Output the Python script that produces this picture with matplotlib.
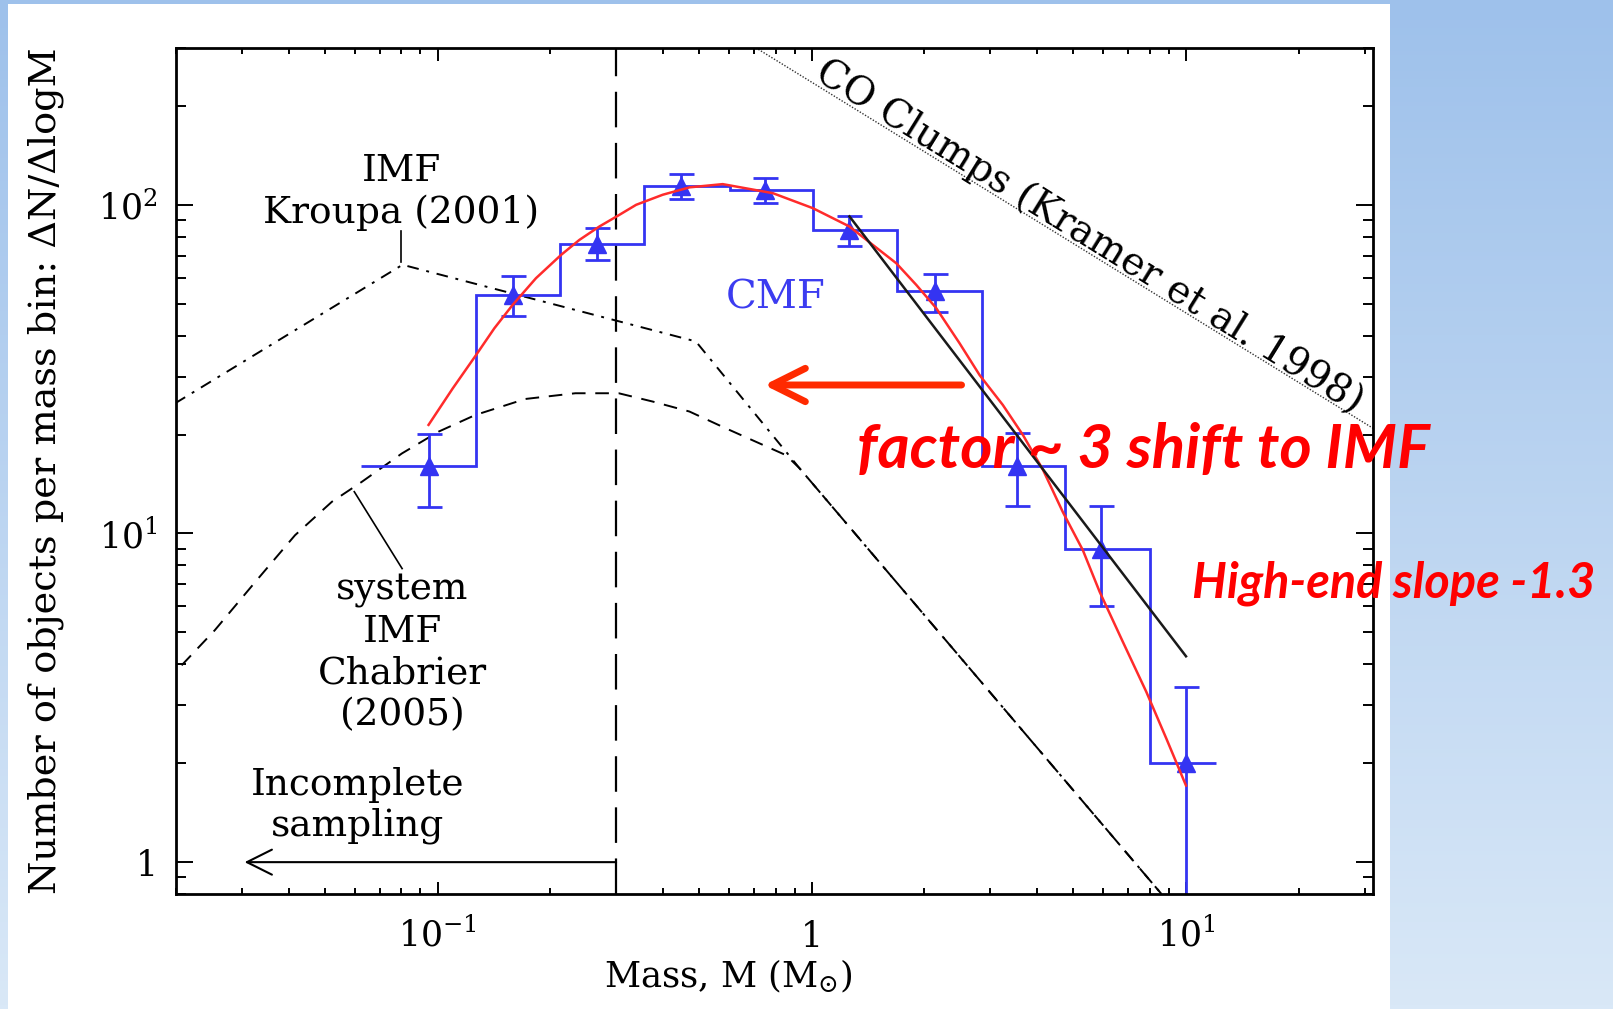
import numpy as np
import matplotlib.pyplot as plt
from matplotlib.patches import Rectangle
from matplotlib.ticker import FixedLocator, FixedFormatter, LogLocator, NullFormatter

plt.rcParams['font.family'] = 'DejaVu Serif'
plt.rcParams['mathtext.fontset'] = 'dejavuserif'

# core mass function: histogram (edges in Msun, counts per dlogM) + points with errors
bin_edges = [0.0624, 0.127, 0.212, 0.357, 0.603, 1.006, 1.687, 2.85, 4.74, 8.0, 12.0]
bin_counts = [16.0, 53.0, 76.0, 114.0, 111.0, 84.0, 54.5, 16.0, 9.0, 2.0]
pt_mass = [0.0946, 0.1586, 0.267, 0.448, 0.751, 1.261, 2.13, 3.53, 5.94, 10.0]
err_hi = [20.1, 60.7, 85.0, 124.0, 121.0, 92.2, 61.5, 20.2, 12.1, 3.4]
err_lo = [12.0, 46.0, 67.7, 104.0, 101.0, 74.7, 47.1, 12.1, 6.0, 0.3]

# lognormal fit to the CMF
fit_mass = [0.0946, 0.1097, 0.1267, 0.1418, 0.1587, 0.1832, 0.2138, 0.2393, 0.2706,
            0.306, 0.3393, 0.3996, 0.471, 0.578, 0.787, 1.006, 1.261, 1.456, 1.682,
            1.901, 2.15, 2.483, 2.81, 3.24, 3.67, 4.15, 4.69, 5.30, 5.88, 6.78,
            7.83, 8.87, 10.0]
fit_n = [21.4, 27.6, 34.9, 42.1, 49.6, 59.8, 70.4, 78.2, 85.9,
         93.2, 100.0, 107.3, 113.0, 115.6, 108.5, 97.7, 85.9, 75.5, 66.4,
         57.1, 48.5, 37.9, 30.3, 24.6, 19.9, 15.6, 11.6, 8.9, 6.64, 4.68,
         3.30, 2.37, 1.71]

# power-law fit to the high-mass end
slope_mass = [1.261, 10.0]
slope_n = [92.2, 4.23]

# Kroupa (2001) IMF
kroupa_mass = [0.0199, 0.0806, 0.49, 0.927, 8.6]
kroupa_n = [24.9, 65.7, 38.4, 15.8, 0.80]

# Chabrier (2005) system IMF
chab_mass = [0.0207, 0.0254, 0.0326, 0.0416, 0.0522, 0.0628, 0.0803, 0.1006, 0.1261,
             0.1716, 0.2335, 0.3048, 0.3757, 0.471, 0.578, 0.710, 0.854, 0.927, 8.6]
chab_n = [3.97, 5.08, 7.13, 9.88, 12.49, 14.37, 17.52, 20.41, 22.93,
          25.66, 26.71, 26.71, 25.2, 23.5, 21.1, 19.0, 17.3, 15.8, 0.80]

# CO clumps (Kramer et al. 1998)
co_mass = [0.697, 31.6]
co_n = [304.0, 20.9]

m_complete = 0.3
incomplete_to = 0.0305

blue = '#3434f2'

fig = plt.figure(figsize=(16.13, 10.09), dpi=100)

# slide background: blue gradient with a white panel
bg = fig.add_axes([0, 0, 1, 1], zorder=-10)
top_c = np.array([158, 193, 235]) / 255.0
bot_c = np.array([217, 232, 247]) / 255.0
t = np.linspace(0, 1, 256)[:, None]
grad = (top_c[None, :] * (1 - t) + bot_c[None, :] * t)[:, None, :]
bg.imshow(grad, extent=[0, 1, 0, 1], aspect='auto', origin='upper')
bg.add_patch(Rectangle((8 / 1613, 0), (1390 - 8) / 1613, (1009 - 4) / 1009,
                       facecolor='white', edgecolor='none'))
bg.set_xlim(0, 1)
bg.set_ylim(0, 1)
bg.axis('off')

ax = fig.add_axes([176 / 1613, 115 / 1009, 1197 / 1613, 846 / 1009])
ax.set_facecolor('white')
ax.set_xscale('log')
ax.set_yscale('log')

# model IMFs
ax.plot(kroupa_mass, kroupa_n, color='black', lw=1.4, ls=(0, (6, 4, 1.5, 4)), zorder=1)
ax.plot(chab_mass, chab_n, color='black', lw=1.4, ls=(0, (7, 5)), zorder=1)
ax.plot(co_mass, co_n, color='#333333', lw=1.0, ls=(0, (1, 1.2)), zorder=1)
ax.axvline(m_complete, color='black', lw=1.6, ls=(0, (16, 7)), zorder=1)

# CMF
ax.stairs(bin_counts, bin_edges, baseline=None, color=blue, lw=2, zorder=2)
vals = np.array(bin_counts)
yerr = [vals - np.array(err_lo), np.array(err_hi) - vals]
ax.errorbar(pt_mass, bin_counts, yerr=yerr, fmt='^', color=blue, ms=13,
            elinewidth=2, capsize=9, capthick=2, zorder=2)
ax.plot(fit_mass, fit_n, color='#ff2b2b', lw=1.8, zorder=3)
ax.plot(slope_mass, slope_n, color='#1a1a1a', lw=1.8, zorder=4)

# incompleteness arrow
ax.annotate('', xy=(incomplete_to, 1.0), xytext=(m_complete, 1.0),
            arrowprops=dict(arrowstyle='->,head_length=0.9,head_width=0.45',
                            color='black', lw=1.5, mutation_scale=20,
                            shrinkA=0, shrinkB=0))

# labels inside the plot (y gives the baseline of the last line)
ax.text(0.080, 88.0, 'IMF\nKroupa (2001)', ha='center', va='baseline',
        multialignment='center', fontsize=27, linespacing=1.2)
ax.plot([0.0798, 0.0798], [83.0, 67.2], color='black', lw=1.2)
ax.text(0.0806, 2.61, 'system\nIMF\nChabrier\n(2005)', ha='center', va='baseline',
        multialignment='center', fontsize=27, linespacing=1.2)
ax.plot([0.0599, 0.0804], [13.4, 7.82], color='black', lw=1.2)
ax.text(0.061, 1.205, 'Incomplete\nsampling', ha='center', va='baseline',
        multialignment='center', fontsize=27, linespacing=1.16)
ax.text(0.803, 48.4, 'CMF', ha='center', va='baseline', fontsize=29, color='#3c3cf0')
ax.text(5.33, 74.8, 'CO Clumps (Kramer et al. 1998)', ha='center', va='baseline',
        rotation=-31.8, rotation_mode='anchor', fontsize=28)

# red arrow: shift between CMF and IMF
ax.annotate('', xy=(0.7464, 28.3), xytext=(2.513, 28.3),
            arrowprops=dict(arrowstyle='->,head_length=1.2,head_width=0.6',
                            color='#ff2a00', lw=5, mutation_scale=20,
                            shrinkA=0, shrinkB=0, capstyle='round', joinstyle='round'))

# axes, ticks
ax.set_xlim(0.02, 31.6)
ax.set_ylim(0.8, 300)
ax.xaxis.set_major_locator(FixedLocator([0.1, 1, 10]))
ax.xaxis.set_major_formatter(FixedFormatter([r'$10^{-1}$', '1', r'$10^{1}$']))
ax.yaxis.set_major_locator(FixedLocator([1, 10, 100]))
ax.yaxis.set_major_formatter(FixedFormatter(['1', r'$10^{1}$', r'$10^{2}$']))
for a in (ax.xaxis, ax.yaxis):
    a.set_minor_locator(LogLocator(base=10, subs=np.arange(2, 10)))
    a.set_minor_formatter(NullFormatter())
ax.tick_params(which='both', direction='in', top=True, right=True, width=1.4, labelsize=25)
ax.tick_params(axis='x', which='major', length=9, pad=38)
ax.tick_params(axis='x', which='minor', length=4.5)
ax.tick_params(axis='y', which='major', length=12, pad=13)
ax.tick_params(axis='y', which='minor', length=7)
for lbl in ax.get_xticklabels():
    lbl.set_verticalalignment('baseline')
for s in ax.spines.values():
    s.set_linewidth(2)

ax.set_xlabel(r'Mass, M (M$_{\odot}$)', fontsize=25.5)
ax.xaxis.set_label_coords(0.461, -0.110)
ax.xaxis.label.set_verticalalignment('baseline')
ax.set_ylabel('Number of objects per mass bin: ΔN/ΔlogM', fontsize=27.5)
ax.yaxis.set_label_coords(-0.1086, 0.5)
ax.yaxis.label.set_verticalalignment('center')

# slide annotations
fig.text(857 / 1613, 1 - 468 / 1009, 'factor ~ 3 shift to IMF', color='red',
         fontsize=44.5, fontweight='bold', fontstyle='italic', family='Lato',
         ha='left', va='baseline')
fig.text(1192 / 1613, 1 - 597 / 1009, 'High-end slope -1.3', color='red',
         fontsize=35, fontweight='bold', fontstyle='italic', family='Lato',
         ha='left', va='baseline')

fig.savefig('out.png', dpi=100)
